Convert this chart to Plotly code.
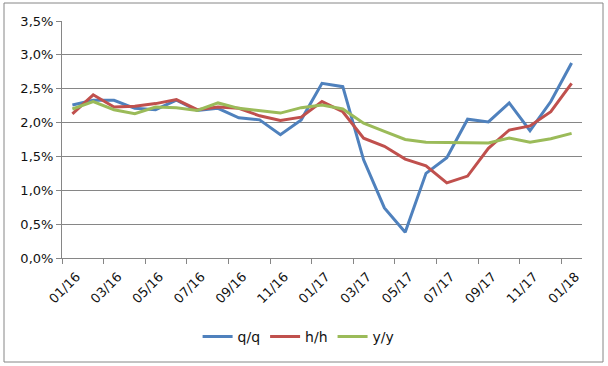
import plotly.graph_objects as go

months = ["01/16","02/16","03/16","04/16","05/16","06/16","07/16","08/16","09/16","10/16","11/16","12/16",
          "01/17","02/17","03/17","04/17","05/17","06/17","07/17","08/17","09/17","10/17","11/17","12/17","01/18"]
qq = [2.26, 2.33, 2.33, 2.21, 2.19, 2.33, 2.18, 2.21, 2.07, 2.04, 1.82, 2.04, 2.58, 2.53, 1.45, 0.74, 0.38, 1.25, 1.48, 2.05, 2.01, 2.29, 1.88, 2.31, 2.88]
hh = [2.13, 2.41, 2.23, 2.24, 2.28, 2.34, 2.19, 2.23, 2.21, 2.10, 2.03, 2.08, 2.31, 2.16, 1.77, 1.65, 1.46, 1.36, 1.11, 1.21, 1.62, 1.89, 1.95, 2.16, 2.58]
yy = [2.20, 2.31, 2.19, 2.13, 2.23, 2.22, 2.18, 2.29, 2.21, 2.17, 2.14, 2.22, 2.26, 2.20, 1.99, 1.87, 1.75, 1.71, 1.71, 1.70, 1.70, 1.77, 1.71, 1.76, 1.84]
y_ticks = [0, 0.5, 1.0, 1.5, 2.0, 2.5, 3.0, 3.5]

series = [("q/q", qq, "#4F81BD"), ("h/h", hh, "#C0504D"), ("y/y", yy, "#9BBB59")]

fig = go.Figure()
for name, vals, col in series:
    fig.add_trace(go.Scatter(x=months, y=[v / 100 for v in vals], name=name, mode="lines",
                             line=dict(color=col, width=3)))

W, H = 608, 366
L, R, T, B = 62, 26, 21, 108
pw, ph = W - L - R, H - T - B


def px_x(p):
    return (p - L) / pw


def px_y(p):
    return (H - B - p) / ph


border = [(4, 3, 603, 3), (4, 362, 603, 362), (4, 3, 4, 362), (603, 3, 603, 362)]
shapes = [dict(type="line", xref="paper", yref="paper", x0=px_x(a), y0=px_y(b), x1=px_x(c), y1=px_y(d),
               line=dict(color="#868686", width=1), layer="above") for a, b, c, d in border]

fig.update_layout(
    width=W, height=H,
    margin=dict(l=L, r=R, t=T, b=B),
    paper_bgcolor="white", plot_bgcolor="white",
    separators=", ",
    font=dict(family="DejaVu Sans, Verdana, sans-serif", size=13, color="#111"),
    showlegend=True,
    legend=dict(orientation="h", x=0.455, xanchor="center", y=-0.333, yanchor="middle",
                font=dict(size=14), itemwidth=30, tracegroupgap=0),
    xaxis=dict(type="category", tickson="boundaries", dtick=2, tickangle=-45,
               ticks="outside", ticklen=5, tickcolor="#868686",
               showline=True, linecolor="#868686", linewidth=1,
               showgrid=False, tickfont=dict(size=13), range=[-0.5, 24.5],
               ticklabelstandoff=5, ticklabelshift=4),
    yaxis=dict(range=[0, 0.035], tickvals=[v / 100 for v in y_ticks], tickformat=".1%",
               ticks="outside", ticklen=5, tickcolor="#868686",
               showline=True, linecolor="#868686", linewidth=1,
               showgrid=True, gridcolor="#868686", gridwidth=1, zeroline=False,
               tickfont=dict(size=13)),
    shapes=shapes,
)

fig.write_html("out.html", post_script="document.body.style.margin='0px';",
               config={"displayModeBar": False})
